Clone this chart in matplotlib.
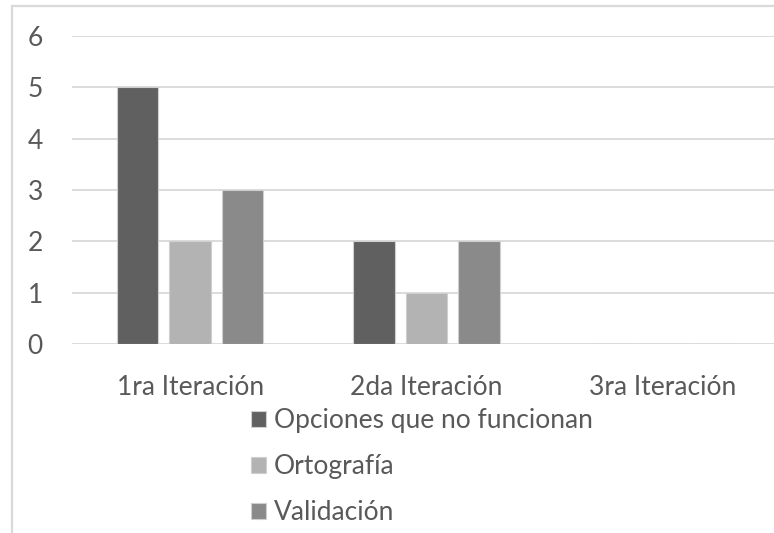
import matplotlib
matplotlib.use("Agg")
import matplotlib.pyplot as plt
import numpy as np
from matplotlib.patches import Rectangle

plt.rcParams['font.family'] = ['Lato', 'DejaVu Sans']

categories = ["1ra Iteración", "2da Iteración", "3ra Iteración"]
series_names = ["Opciones que no funcionan", "Ortografía", "Validación"]
opciones = [5, 2, 0]
ortografia = [2, 1, 0]
validacion = [3, 2, 0]
yticks = [0, 1, 2, 3, 4, 5, 6]

colors = ["#606060", "#b3b3b3", "#8a8a8a"]
text_color = "#595959"
grid_color = "#d9d9d9"
fs = 19

W, H = 774, 533
fig = plt.figure(figsize=(W / 100, H / 100), dpi=100)

# outer chart border (partially off-canvas on the right and bottom)
fig.patches.append(Rectangle((12 / W, -0.1), 1.2, (H - 6) / H + 0.1,
                             transform=fig.transFigure, fill=False,
                             edgecolor=grid_color, linewidth=1.6, zorder=0))

left_px, right_px = 72, 781
top_px, bottom_px = 36, 344
ax = fig.add_axes([left_px / W, (H - bottom_px) / H,
                   (right_px - left_px) / W, (bottom_px - top_px) / H])

x = np.arange(len(categories))
bw = 0.176
step = 0.222
for i, (vals, name) in enumerate(zip([opciones, ortografia, validacion], series_names)):
    ax.bar(x + (i - 1) * step, vals, width=bw, color=colors[i], label=name,
           edgecolor="#cfcfcf", linewidth=0.8, zorder=3)

ax.set_xlim(-0.5, len(categories) - 0.5)
ax.set_ylim(0, 6)
ax.set_yticks(yticks)
ax.yaxis.grid(True, color=grid_color, linewidth=1.3, zorder=0)
ax.set_axisbelow(True)
for s in ax.spines.values():
    s.set_visible(False)
ax.tick_params(axis='both', length=0, labelsize=fs, colors=text_color)
ax.tick_params(axis='y', pad=21)
ax.tick_params(axis='x', pad=22)
ax.set_xticks(x)
ax.set_xticklabels(categories)

leg = ax.legend(loc='upper left', bbox_to_anchor=(251 / W, 1 - 408 / H),
                bbox_transform=fig.transFigure, frameon=False, fontsize=fs,
                handlelength=0.57, handleheight=0.57, handletextpad=0.3,
                labelspacing=0.8, borderpad=0, borderaxespad=0)
for t in leg.get_texts():
    t.set_color(text_color)

fig.savefig("out.png", dpi=100)
